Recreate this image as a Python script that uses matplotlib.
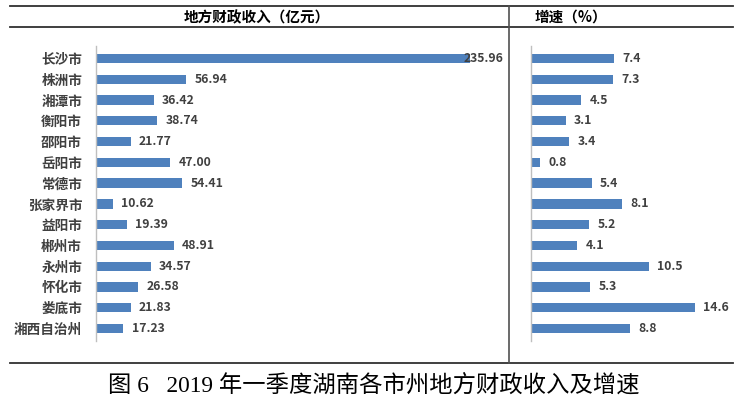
import matplotlib.pyplot as plt
from matplotlib.lines import Line2D
import numpy as np

plt.rcParams['font.family'] = ['Noto Sans CJK SC', 'DejaVu Sans']

# 数据
cities = ["长沙市", "株洲市", "湘潭市", "衡阳市", "邵阳市", "岳阳市", "常德市",
          "张家界市", "益阳市", "郴州市", "永州市", "怀化市", "娄底市", "湘西自治州"]
revenue = [235.96, 56.94, 36.42, 38.74, 21.77, 47.00, 54.41,
           10.62, 19.39, 48.91, 34.57, 26.58, 21.83, 17.23]
growth = [7.4, 7.3, 4.5, 3.1, 3.4, 0.8, 5.4, 8.1, 5.2, 4.1, 10.5, 5.3, 14.6, 8.8]

W, H = 743, 409
fig = plt.figure(figsize=(W / 100, H / 100), dpi=100)

bar_color = "#4f81bd"
lab_color = "#404040"


def px(x0, y0, x1, y1):
    # 像素 -> figure 坐标
    return [x0 / W, 1 - y1 / H, (x1 - x0) / W, (y1 - y0) / H]


ax1 = fig.add_axes(px(96, 46, 509, 341))
ax2 = fig.add_axes(px(531, 46, 735, 341))

y = np.arange(len(cities))

for ax, vals, xmax, fmt in [(ax1, revenue, 260.6, "{:.2f}"), (ax2, growth, 18.2, "{:.1f}")]:
    ax.barh(y, vals, height=0.45, color=bar_color)
    ax.set_xlim(0, xmax)
    ax.set_ylim(13.6, -0.6)
    ax.set_xticks([])
    for s in ["top", "right", "bottom"]:
        ax.spines[s].set_visible(False)
    ax.spines["left"].set_color("#bfbfbf")
    ax.spines["left"].set_linewidth(1.0)
    ax.tick_params(axis="y", length=0)
    for i, v in enumerate(vals):
        if v > xmax * 0.85:
            ax.annotate(fmt.format(v), xy=(xmax, i), xytext=(-4, 0), textcoords="offset points",
                        ha="right", va="center", fontsize=8.8, fontweight="bold", color=lab_color)
        else:
            ax.annotate(fmt.format(v), xy=(v, i), xytext=(6, 0), textcoords="offset points",
                        ha="left", va="center", fontsize=8.8, fontweight="bold", color=lab_color)

ax1.set_yticks(y)
ax1.set_yticklabels(cities, fontsize=9.8, fontweight="bold", color=lab_color)
ax1.tick_params(axis="y", pad=10)
ax2.set_yticks([])

# 表格线
line_c = "#303030"
fig.add_artist(Line2D([10 / W, 733 / W], [1 - 6 / H, 1 - 6 / H], color=line_c, lw=1.3))
fig.add_artist(Line2D([10 / W, 733 / W], [1 - 27 / H, 1 - 27 / H], color=line_c, lw=1.3))
fig.add_artist(Line2D([10 / W, 733 / W], [1 - 363 / H, 1 - 363 / H], color=line_c, lw=1.3))
fig.add_artist(Line2D([509 / W, 509 / W], [1 - 6 / H, 1 - 363 / H], color="#505050", lw=1.2))

# 表头
fig.text(257 / W, 1 - 17 / H, "地方财政收入（亿元）", ha="center", va="center",
         fontsize=10.5, fontweight="bold", color="black")
fig.text(571 / W, 1 - 17 / H, "增速（%）", ha="center", va="center",
         fontsize=10.5, fontweight="bold", color="black")

# 图题
fig.text(374 / W, 1 - 385 / H, "图 6   2019 年一季度湖南各市州地方财政收入及增速", ha="center", va="center",
         fontsize=16.8, color="black", family=["Liberation Serif", "Noto Sans CJK SC"])

fig.savefig("out.png", dpi=100)
